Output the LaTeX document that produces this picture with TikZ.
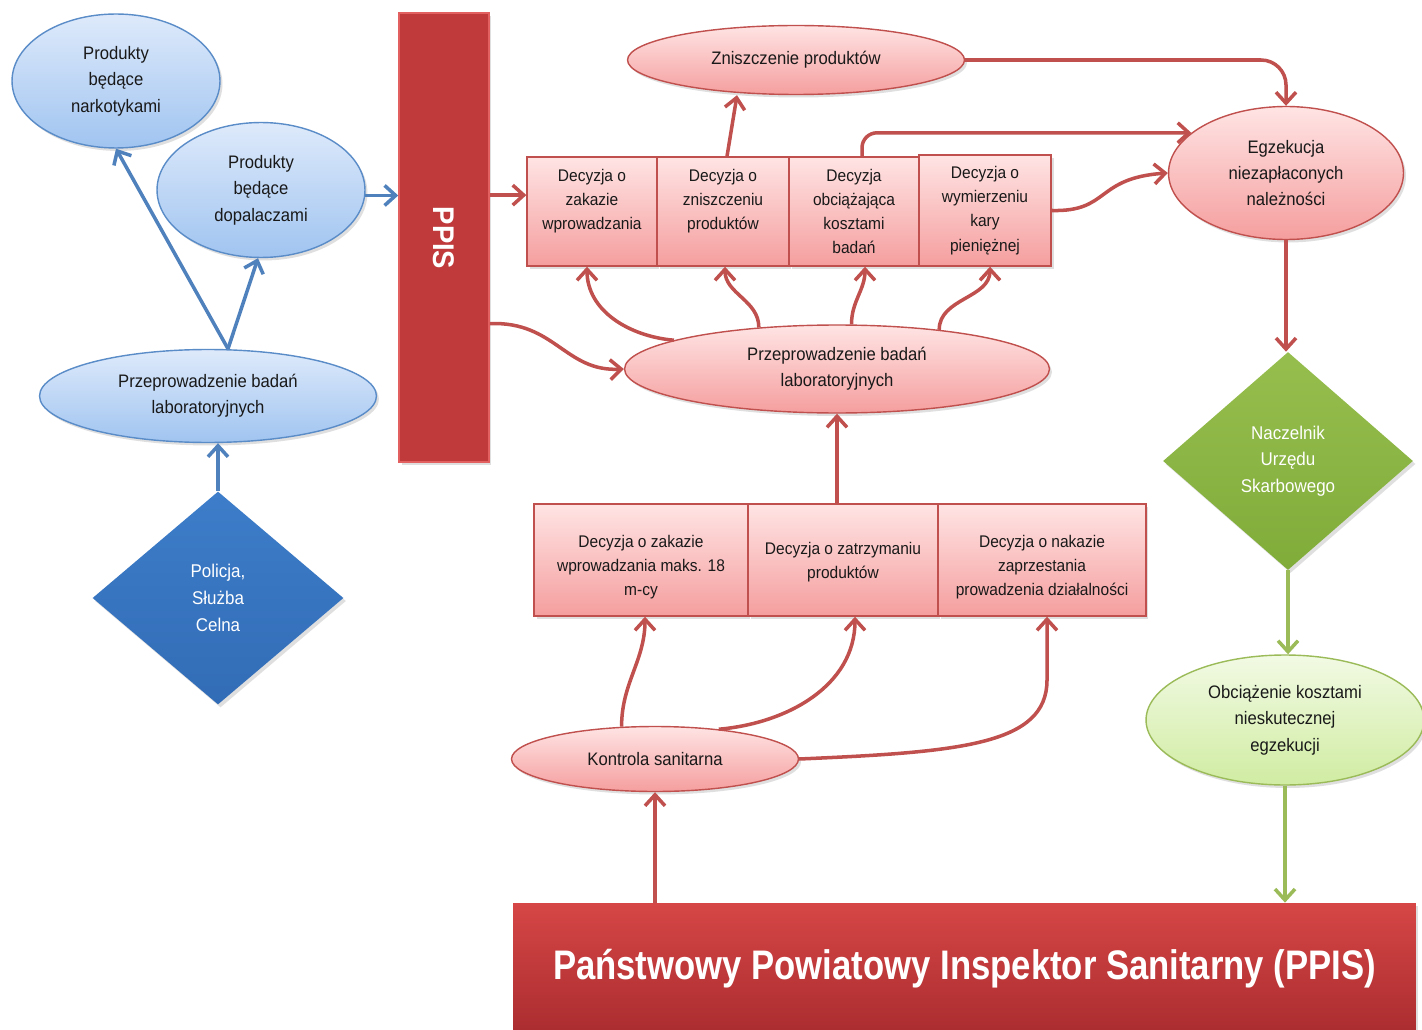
\documentclass[tikz,border=0pt]{standalone}
\usepackage{fontspec}
\setmainfont{Liberation Sans}[FakeStretch=0.92]
\newfontfamily\bigfont{Liberation Sans}[FakeStretch=0.84]
\usetikzlibrary{shapes.geometric,arrows.meta,shadows}
\definecolor{rline}{RGB}{192,80,77}
\definecolor{rtop}{RGB}{255,228,228}
\definecolor{rbot}{RGB}{245,158,158}
\definecolor{btop}{RGB}{222,234,251}
\definecolor{bbot}{RGB}{160,196,240}
\definecolor{bborder}{RGB}{90,140,200}
\definecolor{bline}{RGB}{79,129,189}
\definecolor{gtop}{RGB}{242,250,228}
\definecolor{gbot}{RGB}{208,236,162}
\definecolor{gline}{RGB}{155,187,89}
\definecolor{ppisred}{RGB}{192,57,59}
\definecolor{ppisdark}{RGB}{170,44,47}
\definecolor{ppislight}{RGB}{214,70,70}
\definecolor{ppisedge}{RGB}{226,96,96}
\definecolor{bluedia}{RGB}{61,125,201}
\definecolor{bluediadark}{RGB}{50,108,182}
\definecolor{greendia}{RGB}{150,190,78}
\definecolor{greendiadark}{RGB}{128,172,58}
\definecolor{txt}{RGB}{25,25,25}
\begin{document}
\begin{tikzpicture}[x=0.02cm,y=-0.02cm,
  shad/.style={drop shadow={opacity=0.25,shadow xshift=0.05cm,shadow yshift=-0.06cm}},
  ell/.style={ellipse,inner sep=0pt,align=center,text=txt,font=\fontsize{10.3}{15}\selectfont,shad},
  blueell/.style={ell,draw=bborder,line width=0.8pt,top color=btop,bottom color=bbot},
  redell/.style={ell,draw=rline,line width=0.8pt,top color=rtop,bottom color=rbot},
  greenell/.style={ell,draw=gline,line width=0.8pt,top color=gtop,bottom color=gbot},
  redbox/.style={rectangle,inner sep=0pt,align=center,text=txt,draw=rline,line width=0.8pt,top color=rtop,bottom color=rbot,font=\fontsize{9.6}{13.8}\selectfont,shad},
  dia/.style={diamond,inner sep=0pt,align=center,text=white,font=\fontsize{10.5}{15.2}\selectfont,shad},
  arr/.style={line width=2pt,-{Straight Barb[length=2.2mm,width=4mm]}},
  rarr/.style={arr,draw=rline},
  barr/.style={arr,draw=bline},
  garr/.style={arr,draw=gline}
]
\useasboundingbox (0,0) rectangle (1422,1030);
\fill[white] (0,0) rectangle (1422,1030);

% left blue part
\node[blueell,minimum width=4.16cm,minimum height=2.68cm] (narko) at (116,81) {Produkty\\będące\\narkotykami};
\node[blueell,minimum width=4.16cm,minimum height=2.70cm] (dopal) at (261,190) {Produkty\\będące\\dopalaczami};
\node[blueell,minimum width=6.74cm,minimum height=1.86cm] (bluelab) at (208,396) {Przeprowadzenie badań\\laboratoryjnych};
\node[dia,top color=bluedia,bottom color=bluediadark,minimum width=5.02cm,minimum height=4.26cm] (police) at (218,598) {Policja,\\Służba\\Celna};

% PPIS bar
\node[rectangle,inner sep=0pt,fill=ppisred,draw=ppisedge,line width=0.9pt,minimum width=1.8cm,minimum height=8.98cm,shad] (ppis) at (444,237.5) {};
\node[rotate=-90,text=white,font=\bfseries\fontsize{17}{20}\selectfont] (ppistext) at (444,238) {PPIS};

% top red part
\node[redell,minimum width=6.74cm,minimum height=1.38cm] (zniszcz) at (796,60) {Zniszczenie produktów};
\node[redbox,minimum width=2.6cm,minimum height=2.18cm] (d1) at (592,211.5) {Decyzja o\\zakazie\\wprowadzania\\\mbox{}};
\node[redbox,minimum width=2.64cm,minimum height=2.18cm] (d2) at (723,211.5) {Decyzja o\\zniszczeniu\\produktów\\\mbox{}};
\node[redbox,minimum width=2.6cm,minimum height=2.18cm] (d3) at (854,211.5) {Decyzja\\obciążająca\\kosztami\\badań};
\node[redbox,minimum width=2.64cm,minimum height=2.22cm] (d4) at (985,210.5) {Decyzja o\\wymierzeniu\\kary\\pieniężnej};
\node[redell,minimum width=8.5cm,minimum height=1.76cm] (redlab) at (837,369) {Przeprowadzenie badań\\laboratoryjnych};
\node[redell,minimum width=4.7cm,minimum height=2.66cm] (egz) at (1286,173) {Egzekucja\\niezapłaconych\\należności};

% right green part
\node[dia,top color=greendia,bottom color=greendiadark,minimum width=5cm,minimum height=4.36cm] (nacz) at (1288,461) {Naczelnik\\Urzędu\\Skarbowego};
\node[greenell,minimum width=5.56cm,minimum height=2.6cm] (obc) at (1285,720) {Obciążenie kosztami\\nieskutecznej\\egzekucji};

% lower red part
\node[redbox,minimum width=4.28cm,minimum height=2.24cm] (e1) at (641,560) {\rule{0pt}{15pt}Decyzja o zakazie\\wprowadzania maks. 18\\m-cy};
\node[redbox,minimum width=3.8cm,minimum height=2.24cm] (e2) at (843,560) {\rule{0pt}{9pt}Decyzja o zatrzymaniu\\produktów};
\node[redbox,minimum width=4.16cm,minimum height=2.24cm] (e3) at (1042,560) {\rule{0pt}{15pt}Decyzja o nakazie\\zaprzestania\\prowadzenia działalności};
\node[redell,minimum width=5.74cm,minimum height=1.3cm] (kontrola) at (655,759) {Kontrola sanitarna};
\node[rectangle,inner sep=0pt,top color=ppislight,bottom color=ppisdark,minimum width=18.06cm,minimum height=2.64cm,text=white,shad] (bigbox) at (964.5,969) {\bigfont\bfseries\fontsize{23.5}{28}\selectfont Państwowy Powiatowy Inspektor Sanitarny (PPIS)};

% blue connectors
\draw[barr] ([xshift=0.4cm]bluelab.north) -- (narko.south);
\draw[barr] ([xshift=0.4cm]bluelab.north) -- ([xshift=-0.06cm]dopal.south);
\draw[barr] (police.north) -- (police.north |- bluelab.south);
\draw[barr] (dopal.-3) -- (dopal.-3 -| ppis.west);

% red connectors
\draw[rarr] (ppis.east |- d1.166) -- (d1.166);
\draw[rarr] (ppis.-62.2) .. controls (555,321) and (565,372) .. (redlab.west);
\draw[rarr] ([xshift=0.08cm]d2.north) -- ([xshift=-1.18cm]zniszcz.south);
\draw[rarr,rounded corners=0.5cm] (zniszcz.east) -| (egz.north);
\draw[rarr,rounded corners=0.3cm] ([xshift=0.16cm]d3.north) |- (egz.157);
\draw[rarr] (d4.east) .. controls (1110,212) and (1095,178) .. (egz.west);
\draw[rarr] (redlab.170) to[out=175,in=-90] ([xshift=-0.1cm]d1.south);
\draw[rarr] (redlab.152) to[out=90,in=-90] ([xshift=0.04cm]d2.south);
\draw[rarr] (redlab.72) to[out=90,in=-90] ([xshift=0.22cm]d3.south);
\draw[rarr] (redlab.21) to[out=90,in=-90] ([xshift=0.1cm]d4.south);
\draw[rarr] (e2.north -| redlab.south) -- (redlab.south);
\draw[rarr] (kontrola.136) to[out=90,in=-90] ([xshift=0.08cm]e1.south);
\draw[rarr] (kontrola.25) to[out=5,in=-90] ([xshift=0.24cm]e2.south);
\draw[rarr] (kontrola.east) .. controls (960,752) and (1047,745) .. (1047,680) -- ([xshift=0.1cm]e3.south);
\draw[rarr] (bigbox.north -| kontrola.south) -- (kontrola.south);
\draw[rarr] (egz.south) -- (egz.south |- nacz.north);

% green connectors
\draw[garr] (nacz.south) -- (nacz.south |- obc.north);
\draw[garr] (obc.south) -- (obc.south |- bigbox.north);
\end{tikzpicture}
\end{document}
